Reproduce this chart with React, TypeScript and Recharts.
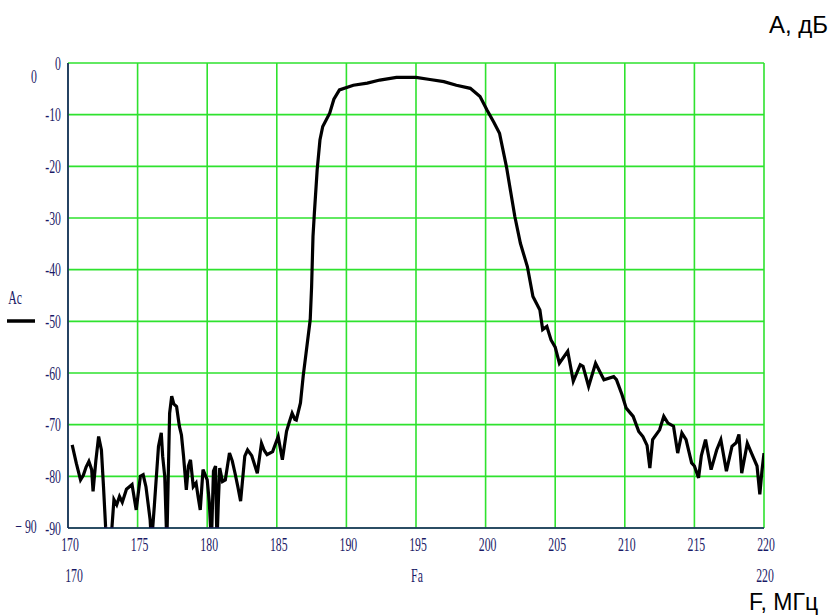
import React from 'react'
import { LineChart, Line, XAxis, YAxis, CartesianGrid } from 'recharts'

// frequency, MHz
const freq = [
  170.3, 170.6, 170.9, 171.1, 171.3, 171.5, 171.7, 171.8, 172.0, 172.2, 172.4, 172.55, 172.7, 172.85,
  173.1, 173.3, 173.5, 173.7, 173.9, 174.2, 174.6, 174.9, 175.2, 175.4, 175.6, 175.9, 176.0, 176.2,
  176.5, 176.7, 176.8, 176.95, 177.1, 177.3, 177.45, 177.6, 177.8, 178.0, 178.15, 178.3, 178.5, 178.65,
  178.8, 179.0, 179.2, 179.35, 179.5, 179.7, 180.0, 180.15, 180.3, 180.45, 180.6, 180.7, 180.8, 180.9,
  181.1, 181.3, 181.6, 181.8, 182.0, 182.2, 182.4, 182.7, 182.9, 183.2, 183.6, 183.9, 184.1, 184.3,
  184.7, 185.1, 185.4, 185.7, 185.9, 186.1, 186.3, 186.4, 186.7, 186.9, 187.1, 187.4, 187.5, 187.6,
  187.7, 187.9, 188.1, 188.3, 188.8, 189.1, 189.5, 190.5, 191.5, 192.4, 193.6, 195.0, 196.0, 197.0,
  197.9, 198.9, 199.6, 200.1, 200.6, 201.0, 201.5, 202.1, 202.5, 203.0, 203.4, 203.9, 204.1, 204.4,
  204.7, 205.0, 205.3, 205.9, 206.3, 206.8, 207.0, 207.4, 207.9, 208.5, 209.2, 209.4, 209.8, 210.1,
  210.6, 211.0, 211.3, 211.6, 211.8, 212.0, 212.5, 212.8, 213.1, 213.5, 213.8, 214.1, 214.4, 214.8,
  215.0, 215.3, 215.5, 215.8, 216.2, 216.6, 216.9, 217.3, 217.7, 218.0, 218.2, 218.4, 218.8, 219.1,
  219.5, 219.7, 219.85, 220.0,
]

// attenuation Ac, dB
const level = [
  -73.9, -77.5, -80.7, -79.8, -78.2, -77.1, -78.7, -82.9, -77.0, -72.3, -74.9, -82, -89.7, -93,
  -92, -84.5, -85.5, -83.9, -85, -82.5, -81.6, -86.5, -80, -79.7, -82, -88.4, -93, -85.8,
  -74.2, -71.6, -76.1, -80, -93, -67.8, -64.5, -66, -66.5, -70.3, -72, -76.1, -82.6, -78,
  -76.8, -82, -81.3, -84, -86.5, -78.7, -80.7, -85, -93, -79, -78, -93, -85, -78.4,
  -81, -80.7, -75.5, -77, -79.4, -82, -84.8, -76.1, -74.9, -76, -79.4, -73.6, -75, -75.8,
  -75.2, -72.3, -76.8, -71.3, -69.5, -67.8, -69, -69.1, -65.8, -60.5, -56.2, -49.7, -43.3, -33.6,
  -29, -20.7, -14.9, -12.3, -9.7, -7, -5.2, -4.3, -3.9, -3.3, -2.8, -2.8, -3.2, -3.6,
  -4.3, -4.9, -6.5, -9.1, -11.5, -13.6, -20.1, -29.7, -34.9, -39.4, -45.2, -47.8, -51.6, -51,
  -53.6, -55, -58.1, -55.8, -61.6, -58.4, -58.7, -62.6, -58.1, -61.3, -60.7, -61.3, -64.2, -66.8,
  -68.4, -71.3, -72.3, -74, -78.4, -72.9, -71, -68.4, -69.7, -70.3, -75.5, -71.6, -72.9, -77.4,
  -78, -80.3, -76, -72.9, -78.7, -74.9, -72.9, -79, -74.2, -73.5, -71.9, -79.4, -73.6, -75.5,
  -78, -83.5, -79, -75.5,
]

const xTicks = [170, 175, 180, 185, 190, 195, 200, 205, 210, 215, 220]
const yTicks = [0, -10, -20, -30, -40, -50, -60, -70, -80, -90]

const data = freq.map((f, i) => ({ f, ac: level[i] }))

const NAVY = '#1a1a66'
const GREEN = '#2ee22e'
const TICK_FONT = '"Liberation Serif", "DejaVu Serif", serif'
const TICK_SIZE = 19
const SQUEEZE = 0.62

const XTick = ({ x, y, payload }: any) => (
  <text
    transform={`translate(${x + 2},${y}) scale(${SQUEEZE},1)`}
    textAnchor="middle"
    dy="0.71em"
    fill={NAVY}
    fontFamily={TICK_FONT}
    fontSize={TICK_SIZE}
  >
    {payload.value}
  </text>
)

const YTick = ({ x, y, payload }: any) => (
  <text
    transform={`translate(${x},${y}) scale(${SQUEEZE},1)`}
    textAnchor="end"
    dy="0.35em"
    fill={NAVY}
    fontFamily={TICK_FONT}
    fontSize={TICK_SIZE}
  >
    {payload.value}
  </text>
)

// mathcad style labels around the plot
const Label = ({ x, y, text, anchor = 'middle' }: { x: number; y: number; text: string; anchor?: string }) => (
  <text
    transform={`translate(${x},${y}) scale(${SQUEEZE},1)`}
    textAnchor={anchor as any}
    dy="0.35em"
    fill={NAVY}
    fontFamily={TICK_FONT}
    fontSize={TICK_SIZE}
  >
    {text}
  </text>
)

export default function App() {
  return (
    <div style={{ position: 'absolute', left: 0, top: 0, width: 838, height: 616, background: '#fff' }}>
      <LineChart width={838} height={616} data={data} margin={{ top: 63, right: 74, bottom: 58, left: 8 }}>
        <CartesianGrid stroke={GREEN} strokeWidth={1.6} />
        <XAxis
          dataKey="f"
          type="number"
          domain={[170, 220]}
          ticks={xTicks}
          allowDataOverflow
          height={30}
          tickSize={0}
          tickMargin={9}
          tick={<XTick />}
          axisLine={{ stroke: NAVY, strokeWidth: 1.6 }}
        />
        <XAxis
          xAxisId="top"
          orientation="top"
          type="number"
          domain={[170, 220]}
          height={0}
          tick={false}
          tickLine={false}
          axisLine={{ stroke: NAVY, strokeWidth: 1.6 }}
        />
        <YAxis
          type="number"
          domain={[-90, 0]}
          ticks={yTicks}
          allowDataOverflow
          width={60}
          tickSize={0}
          tickMargin={7}
          tick={<YTick />}
          axisLine={{ stroke: NAVY, strokeWidth: 1.6 }}
        />
        <YAxis
          yAxisId="right"
          orientation="right"
          type="number"
          domain={[-90, 0]}
          width={0}
          tick={false}
          tickLine={false}
          axisLine={{ stroke: NAVY, strokeWidth: 1.6 }}
        />
        <Line
          type="linear"
          dataKey="ac"
          stroke="#000"
          strokeWidth={3.2}
          dot={false}
          isAnimationActive={false}
        />
      </LineChart>
      <svg width={838} height={616} style={{ position: 'absolute', left: 0, top: 0, pointerEvents: 'none' }}>
        <Label x={34} y={76} text="0" />
        <Label x={26} y={526} text="− 90" />
        <Label x={15} y={297} text="Ac" />
        <line x1={7} y1={321} x2={35} y2={321} stroke="#000" strokeWidth={3.5} />
        <Label x={74} y={575} text="170" />
        <Label x={417} y={575} text="Fa" />
        <Label x={765} y={575} text="220" />
        <text x={769} y={33} fontFamily='"Liberation Sans", Arial, sans-serif' fontSize={24} fill="#000">
          А, дБ
        </text>
        <text x={749} y={610} fontFamily='"Liberation Sans", Arial, sans-serif' fontSize={23} fill="#000">
          F, МГц
        </text>
      </svg>
    </div>
  )
}
